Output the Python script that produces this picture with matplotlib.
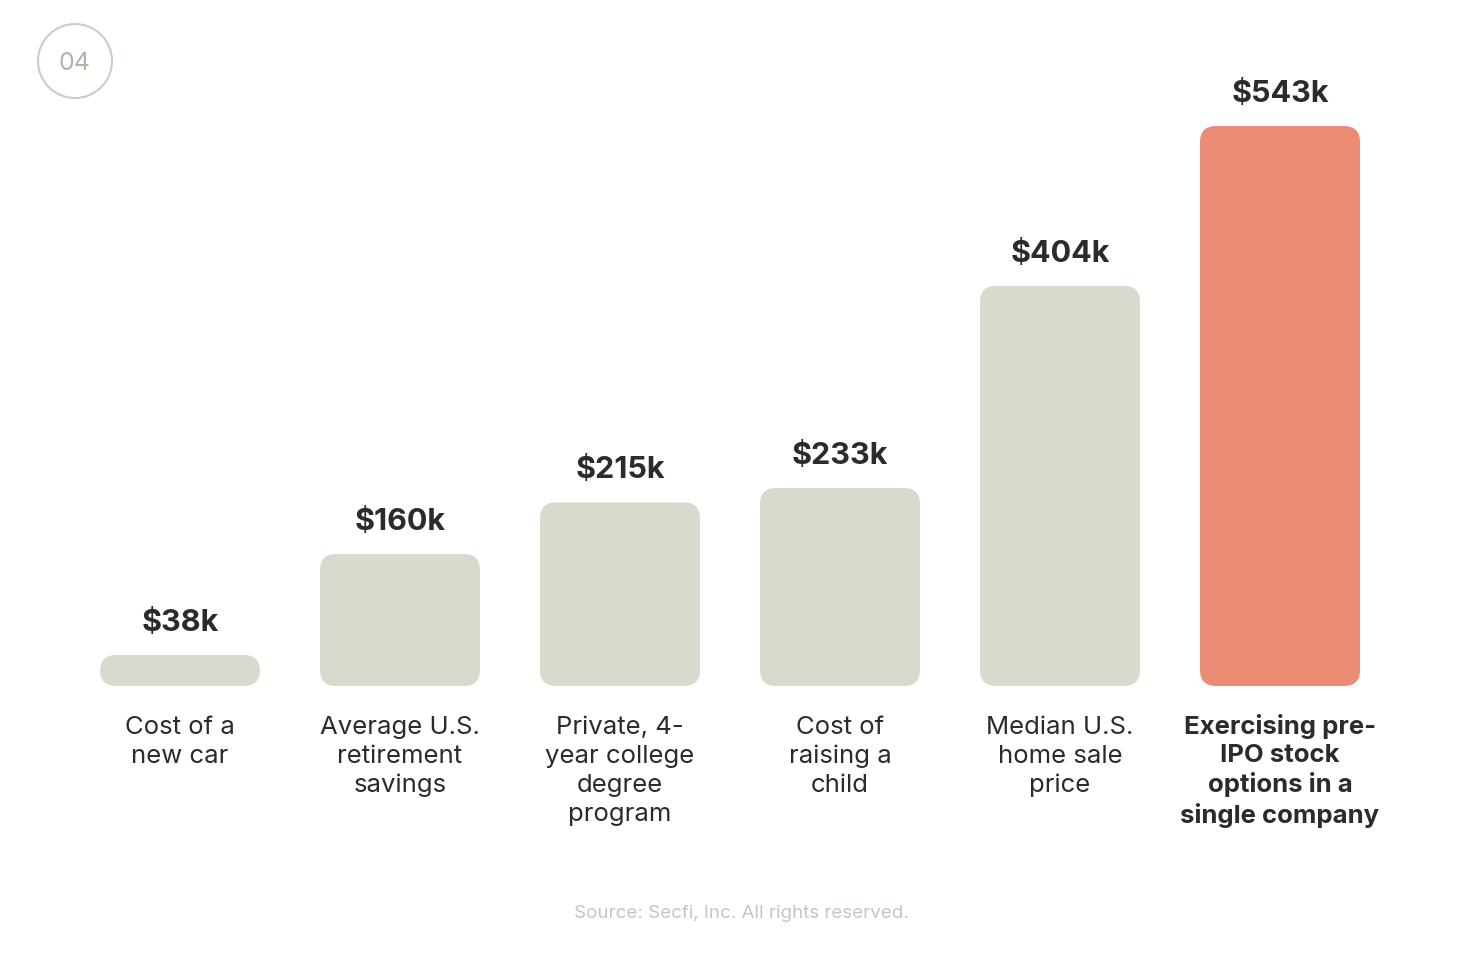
import numpy as np
import matplotlib
matplotlib.use('Agg')
import matplotlib.pyplot as plt
from matplotlib.patches import FancyBboxPatch, Circle

plt.rcParams['font.family'] = ['Inter', 'DejaVu Sans']

# data
categories = ["Cost of a\nnew car",
              "Average U.S.\nretirement\nsavings",
              "Private, 4-\nyear college\ndegree\nprogram",
              "Cost of\nraising a\nchild",
              "Median U.S.\nhome sale\nprice",
              "Exercising pre-\nIPO stock\noptions in a\nsingle company"]
value_labels = ["$38k", "$160k", "$215k", "$233k", "$404k", "$543k"]
# bar heights as drawn in the reference (not to scale with the values)
bar_heights = [30, 128, 178, 192, 388, 543]
highlight = [False, False, False, False, False, True]

grey = '#d9d9cd'
orange = '#ec8c75'
dark = '#2b2b2e'

W, H = 1484, 966
fig = plt.figure(figsize=(W/100.0, H/100.0), dpi=100)
fig.patch.set_facecolor('white')

# axes: x from 70 to 1390 px, baseline at y=686, top at y=126
ax = fig.add_axes([70.0/W, (H-686.0)/H, 1320.0/W, 560.0/H])
ax.set_xlim(-0.5, 5.5)
ax.set_ylim(0, 543)
ax.axis('off')

x = np.arange(len(categories))
bars = ax.bar(x, bar_heights, width=160.0/220.0, color=grey)

px_x = 1320.0/6.0        # px per x unit
px_y = 560.0/543.0       # px per y unit
radius_px = 16.0
for b, hl in zip(bars, highlight):
    bx, by = b.get_x(), b.get_y()
    bw, bh = b.get_width(), b.get_height()
    b.remove()
    p = FancyBboxPatch((bx, by), bw, bh,
                       boxstyle="round,pad=0,rounding_size=%f" % (radius_px/px_x),
                       mutation_aspect=px_x/px_y,
                       facecolor=orange if hl else grey, edgecolor='none')
    ax.add_patch(p)

for xi, h, lab in zip(x, bar_heights, value_labels):
    ax.annotate(lab, (xi, h), xytext=(0, 13), textcoords='offset points',
                ha='center', va='bottom', fontsize=22, fontweight='bold',
                color=dark, annotation_clip=False)

for xi, cat, hl in zip(x, categories, highlight):
    ax.annotate(cat, (xi, 0), xytext=(0, -20.5 if hl else -21.5),
                textcoords='offset points',
                ha='center', va='top', fontsize=18.5,
                linespacing=1.26 if hl else 1.33,
                fontweight='bold' if hl else 'normal',
                color=dark, annotation_clip=False)

# badge
badge = Circle((0.75, (H-61.0)/100), 0.37, transform=fig.dpi_scale_trans,
               facecolor='none', edgecolor='#cfcdc0', linewidth=1.5)
fig.patches.append(badge)
fig.text(75.0/W, 1-64.0/H, "04", ha='center', va='center', fontsize=18,
         color='#b5b4a8')

fig.text(741.0/W, 1-913.0/H, "Source: Secfi, Inc. All rights reserved.",
         ha='center', va='center', fontsize=13.5, color='#c8c6bb')

fig.savefig("out.png", dpi=100, facecolor='white')
